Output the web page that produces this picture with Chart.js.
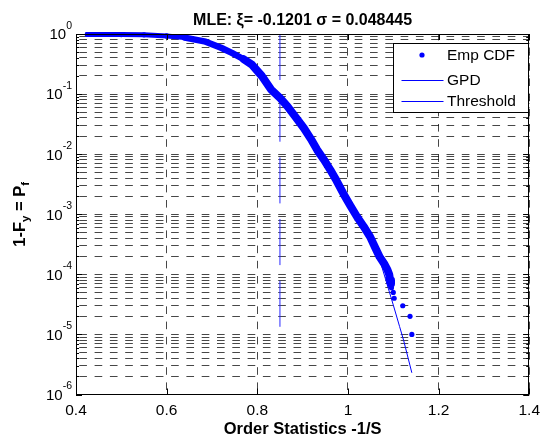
<!DOCTYPE html>
<html>
<head>
<meta charset="utf-8">
<script src="https://cdn.jsdelivr.net/npm/chart.js@4.4.0/dist/chart.umd.min.js"></script>
<style>
    html, body { margin: 0; padding: 0; background: #fff; }
    #wrap { width: 547px; height: 444px; }
</style>
</head>
<body>
<div id="wrap"><canvas id="mleChart"></canvas></div>
<script>
const empX = [0.425, 0.46, 0.50, 0.55, 0.60, 0.64, 0.686, 0.72, 0.745, 0.77, 0.788, 0.81, 0.83, 0.851,
    0.867, 0.885, 0.903, 0.918, 0.932, 0.947, 0.961, 0.975, 0.99, 1.005, 1.02, 1.035, 1.049, 1.06,
    1.07, 1.08, 1.087, 1.091, 1.093, 1.095, 1.096, 1.10, 1.102, 1.121, 1.137, 1.141];
const empP = [0.985, 0.985, 0.98, 0.97, 0.93, 0.87, 0.745, 0.59, 0.48, 0.38, 0.31, 0.2, 0.12, 0.085,
    0.062, 0.041, 0.027, 0.018, 0.0118, 0.0081, 0.0055, 0.0036, 0.0022, 0.0014, 0.00091, 0.00062, 0.00042, 0.00028,
    0.000195, 0.00015, 0.00012, 0.0001, 0.00008, 0.00007, 0.00006, 0.00005, 0.00004, 0.00003, 0.00002, 0.00001];

// fitted GPD tail
const gpdX = [0.85, 0.90, 0.95, 1.00, 1.05, 1.074, 1.10, 1.114, 1.123, 1.141];
const gpdP = [0.085, 0.029, 0.0077, 0.0017, 0.00041, 0.00014, 0.000031, 0.0000135, 0.0000079, 0.0000023];

// threshold u
const thresholdX = [0.85, 0.85];
const thresholdP = [1, 0.000013];

const xTicks = [0.4, 0.6, 0.8, 1.0, 1.2, 1.4];
const yDecades = [-6, -5, -4, -3, -2, -1, 0];

const chartTitle = 'MLE: \u03be= -0.1201 \u03c3 = 0.048445';
const xTitle = 'Order Statistics -1/S';

const BLUE = '#0000ff';
const GRID = 'rgba(0,0,0,0.72)';
const FONT = '"Liberation Sans", Arial, Helvetica, sans-serif';

function pts(xs, ys) {
    return xs.map((v, i) => ({ x: v, y: ys[i] }));
}

function partsWidth(ctx, parts) {
    let w = 0;
    parts.forEach(p => { ctx.font = p.font; w += ctx.measureText(p.text).width; });
    return w;
}

function drawParts(ctx, parts, x, y) {
    parts.forEach(p => {
        ctx.font = p.font;
        ctx.fillText(p.text, x, y + (p.dy || 0));
        x += ctx.measureText(p.text).width;
    });
}

const matlabFrame = {
    id: 'matlabFrame',
    afterDatasetsDraw(chart) {
        const { ctx, chartArea: a, scales: { x, y } } = chart;
        ctx.save();
        ctx.strokeStyle = '#000';
        ctx.lineWidth = 1;
        ctx.setLineDash([]);

        // tick marks pointing inside, MATLAB style
        ctx.beginPath();
        xTicks.forEach(v => {
            const px = Math.round(x.getPixelForValue(v)) + 0.5;
            ctx.moveTo(px, a.bottom); ctx.lineTo(px, a.bottom - 6);
            ctx.moveTo(px, a.top); ctx.lineTo(px, a.top + 6);
        });
        y.ticks.forEach(t => {
            const py = Math.round(y.getPixelForValue(t.value)) + 0.5;
            const len = t.major ? 6 : 3;
            ctx.moveTo(a.left, py); ctx.lineTo(a.left + len, py);
            ctx.moveTo(a.right, py); ctx.lineTo(a.right - len, py);
        });
        ctx.stroke();

        // axes box
        const l = Math.round(a.left) + 0.5, r = Math.round(a.right) - 0.5;
        const t = Math.round(a.top) + 0.5, b = Math.round(a.bottom) - 0.5;
        ctx.strokeRect(l, t, r - l, b - t);

        // legend box
        const lg = { left: 393.5, top: 43.5, w: 135, h: 69 };
        ctx.fillStyle = '#fff';
        ctx.fillRect(lg.left, lg.top, lg.w, lg.h);
        ctx.strokeRect(lg.left, lg.top, lg.w, lg.h);

        const rows = [55, 80, 101];
        ctx.font = '15.5px ' + FONT;
        ctx.textBaseline = 'middle';
        chart.data.datasets.forEach((ds, i) => {
            const ry = rows[i];
            ctx.fillStyle = BLUE;
            ctx.strokeStyle = BLUE;
            if (i === 0) {
                ctx.beginPath();
                ctx.arc(422, ry, 2.6, 0, Math.PI * 2);
                ctx.fill();
            } else {
                ctx.beginPath();
                ctx.moveTo(401.5, ry + 0.5);
                ctx.lineTo(443.5, ry + 0.5);
                ctx.stroke();
            }
            ctx.fillStyle = '#000';
            ctx.fillText(ds.label, 447, ry + 0.5);
        });
        ctx.restore();
    },
    afterDraw(chart) {
        const { ctx, chartArea: a, scales: { y } } = chart;
        const cx = (a.left + a.right) / 2;
        ctx.save();
        ctx.fillStyle = '#000';
        ctx.textBaseline = 'alphabetic';
        ctx.textAlign = 'left';

        // title
        const tParts = [{ text: chartTitle, font: 'bold 16px ' + FONT }];
        drawParts(ctx, tParts, cx - partsWidth(ctx, tParts) / 2, 24.5);

        // x axis title
        const xParts = [{ text: xTitle, font: 'bold 16.5px ' + FONT }];
        drawParts(ctx, xParts, cx - partsWidth(ctx, xParts) / 2, 433.5);

        // y tick labels 10^n
        yDecades.forEach(e => {
            const py = y.getPixelForValue(Math.pow(10, e));
            const parts = [
                { text: '10', font: '15px ' + FONT, dy: 5.4 },
                { text: String(e), font: '10.5px ' + FONT, dy: -5.5 }
            ];
            drawParts(ctx, parts, 72 - partsWidth(ctx, parts), py);
        });

        // y axis title 1-F_y = P_f
        const yParts = [
            { text: '1-F', font: 'bold 16.5px ' + FONT },
            { text: 'y', font: 'bold 11.5px ' + FONT, dy: 4 },
            { text: ' = P', font: 'bold 16.5px ' + FONT },
            { text: 'f', font: 'bold 11.5px ' + FONT, dy: 4 }
        ];
        ctx.translate(25, (a.top + a.bottom) / 2);
        ctx.rotate(-Math.PI / 2);
        drawParts(ctx, yParts, -partsWidth(ctx, yParts) / 2, 0);
        ctx.restore();
    }
};

const ctx = document.getElementById('mleChart').getContext('2d');
const mleChart = new Chart(ctx, {
    type: 'scatter',
    data: {
        datasets: [{
            label: 'Emp CDF',
            data: pts(empX, empP),
            showLine: true,
            borderColor: BLUE,
            borderWidth: 8,
            borderCapStyle: 'round',
            borderJoinStyle: 'round',
            pointRadius: 2.6,
            pointBackgroundColor: BLUE,
            pointBorderWidth: 0,
            segment: {
                borderColor: c => c.p1.parsed.y < 6.5e-5 ? 'transparent' : BLUE,
                borderWidth: c => c.p0.parsed.x < 0.64 ? 5 : (c.p0.parsed.x < 0.75 ? 6.5 : 8)
            },
            clip: { left: 5, top: 2, right: 5, bottom: 5 }
        }, {
            label: 'GPD',
            data: pts(gpdX, gpdP),
            showLine: true,
            borderColor: BLUE,
            borderWidth: 1,
            pointRadius: 0
        }, {
            label: 'Threshold',
            data: pts(thresholdX, thresholdP),
            showLine: true,
            borderColor: '#2a2aff',
            borderWidth: 1,
            borderDash: [46, 15.7],
            pointRadius: 0
        }]
    },
    options: {
        responsive: true,
        maintainAspectRatio: false,
        animation: false,
        layout: { padding: { left: 0, top: 34, right: 12.5, bottom: 0 } },
        plugins: {
            legend: { display: false },
            title: { display: false },
            tooltip: { enabled: false }
        },
        scales: {
            x: {
                type: 'linear',
                min: 0.4,
                max: 1.4,
                afterBuildTicks: s => { s.ticks = xTicks.map(v => ({ value: v })); },
                afterFit: s => { s.height = 49.5; },
                ticks: {
                    autoSkip: false,
                    maxRotation: 0,
                    padding: 7,
                    color: '#000',
                    font: { family: FONT, size: 15.5 },
                    callback: v => String(Math.round(v * 10) / 10)
                },
                grid: { color: GRID, lineWidth: 1, drawTicks: false },
                border: { display: false, dash: [7.6, 7.6], dashOffset: 1.2 }
            },
            y: {
                type: 'logarithmic',
                min: 1e-6,
                max: 1,
                afterBuildTicks: s => {
                    const t = [];
                    yDecades.forEach(e => {
                        for (let m = 1; m <= 9; m++) {
                            const v = m * Math.pow(10, e);
                            if (v <= 1) t.push({ value: v, major: m === 1 });
                        }
                    });
                    s.ticks = t;
                },
                afterFit: s => { s.width = 76; },
                ticks: { display: false },
                grid: { color: GRID, lineWidth: 1, drawTicks: false },
                border: { display: false, dash: [7.65, 7.65], dashOffset: 12 }
            }
        }
    },
    plugins: [matlabFrame]
});
</script>
</body>
</html>
